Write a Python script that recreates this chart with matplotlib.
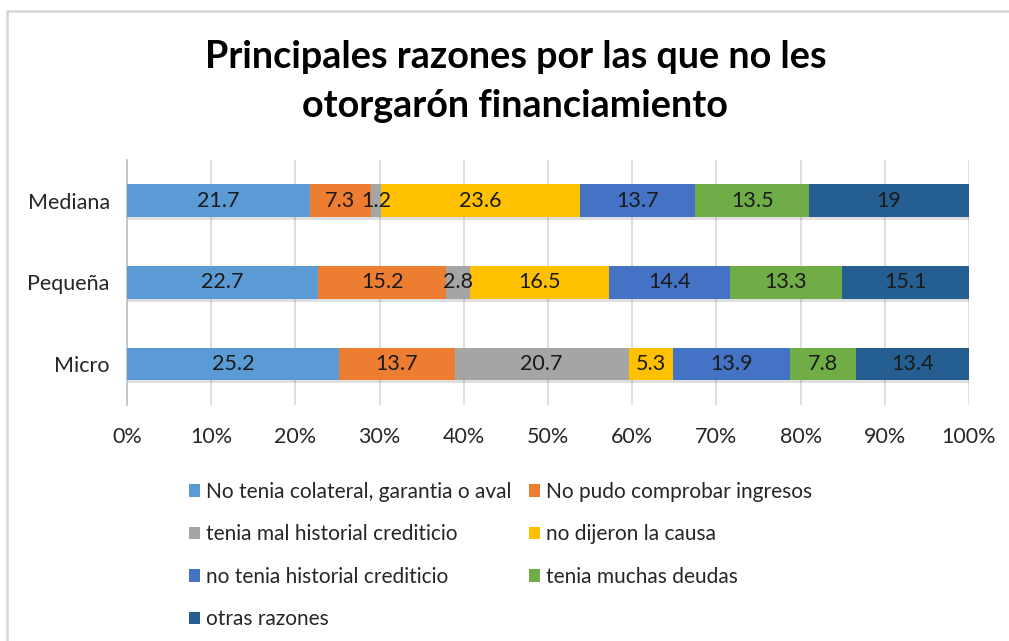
import matplotlib
matplotlib.use("Agg")
import matplotlib.pyplot as plt
import matplotlib.patheffects as pe
from matplotlib.patches import Rectangle, Patch
import numpy as np

plt.rcParams["font.family"] = ["Lato", "DejaVu Sans"]

# ── Data ──────────────────────────────────────────────────────────────────────
categories = ["Micro", "Pequeña", "Mediana"]
series_names = [
    "No tenia colateral, garantia o aval",
    "No pudo comprobar ingresos",
    "tenia mal historial crediticio",
    "no dijeron la causa",
    "no tenia historial crediticio",
    "tenia muchas deudas",
    "otras razones",
]
# values per series, ordered as categories (Micro, Pequeña, Mediana)
colateral = [25.2, 22.7, 21.7]
ingresos = [13.7, 15.2, 7.3]
mal_historial = [20.7, 2.8, 1.2]
no_causa = [5.3, 16.5, 23.6]
sin_historial = [13.9, 14.4, 13.7]
deudas = [7.8, 13.3, 13.5]
otras = [13.4, 15.1, 19]
value_labels = [
    ["25.2", "22.7", "21.7"],
    ["13.7", "15.2", "7.3"],
    ["20.7", "2.8", "1.2"],
    ["5.3", "16.5", "23.6"],
    ["13.9", "14.4", "13.7"],
    ["7.8", "13.3", "13.5"],
    ["13.4", "15.1", "19"],
]
x_ticks = [0, 10, 20, 30, 40, 50, 60, 70, 80, 90, 100]

colors = ["#5B9BD5", "#ED7D31", "#A5A5A5", "#FFC000",
          "#4472C4", "#70AD47", "#255E91"]

series = [colateral, ingresos, mal_historial, no_causa,
          sin_historial, deudas, otras]

# ── Figure ────────────────────────────────────────────────────────────────────
W, H = 1009, 641
fig = plt.figure(figsize=(W / 100, H / 100), dpi=100)
ax = fig.add_axes([127 / W, 1 - 405 / H, (969 - 127) / W, (405 - 160) / H])

# chart frame (top and left edges visible)
fig.patches.append(Rectangle((7 / W, -0.05), 1.2, 1 - 11 / H + 0.05,
                             transform=fig.transFigure, fill=False,
                             edgecolor="#D9D9D9", linewidth=2))

y = np.arange(len(categories))
totals = np.sum(series, axis=0)
left = np.zeros(len(categories))
shadow = [pe.SimplePatchShadow(offset=(1, -2), shadow_rgbFace="#000000",
                               alpha=0.12), pe.Normal()]
for vals, name, col, labels in zip(series, series_names, colors, value_labels):
    pct = np.array(vals) / totals * 100
    bars = ax.barh(y, pct, left=left, height=0.4, color=col,
                   zorder=3, path_effects=shadow)
    for b, lab in zip(bars, labels):
        ax.text(b.get_x() + b.get_width() / 2, b.get_y() + b.get_height() / 2,
                lab, ha="center", va="center", fontsize=15.5, color="#1a1a1a",
                zorder=4)
    left += pct

ax.set_xlim(0, 100)
ax.set_ylim(-0.5, 2.5)
ax.set_xticks(x_ticks)
ax.set_xticklabels([f"{t}%" for t in x_ticks], fontsize=15.5, color="#262626")
ax.set_yticks(y)
ax.set_yticklabels(categories, fontsize=15.5, color="#262626")
ax.tick_params(axis="x", length=0, pad=15.5)
ax.tick_params(axis="y", length=0, pad=12.5)
ax.grid(True, axis="x", color="#D9D9D9", linewidth=1.2, zorder=0)
for s in ["top", "right", "bottom"]:
    ax.spines[s].set_visible(False)
ax.spines["left"].set_color("#BFBFBF")
ax.spines["left"].set_linewidth(1.2)

fig.text(516 / W, 1 - 57 / H, "Principales razones por las que no les",
         ha="center", va="center", fontsize=27.2, fontweight="bold")
fig.text(515 / W, 1 - 106 / H, "otorgarón financiamiento",
         ha="center", va="center", fontsize=27.2, fontweight="bold")

# legend reads row by row: reorder for column-wise filling
handles = [Patch(facecolor=c, label=n) for c, n in zip(colors, series_names)]
order = [0, 2, 4, 6, 1, 3, 5]
fig.legend([handles[i] for i in order], [series_names[i] for i in order],
           loc="upper left", bbox_to_anchor=(170 / W, 1 - 463 / H),
           ncol=2, frameon=False, fontsize=15, handlelength=0.55,
           handleheight=0.55, handletextpad=0.3, columnspacing=0.8,
           labelspacing=1.08, labelcolor="#262626")

fig.savefig("out.png", dpi=100)
